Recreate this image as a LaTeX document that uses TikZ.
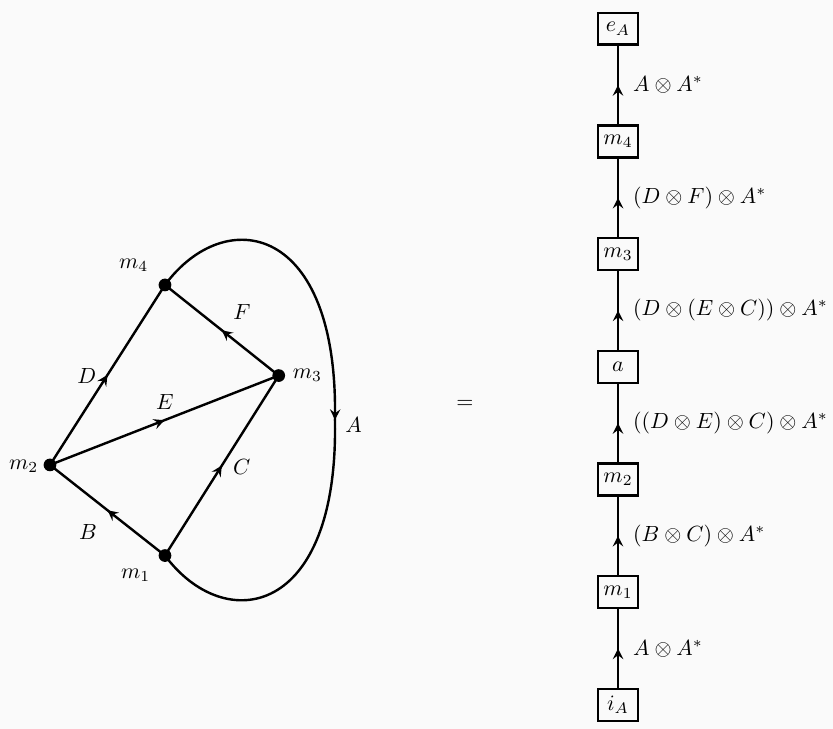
\documentclass[tikz,border=0pt]{standalone}
\usetikzlibrary{positioning,decorations.markings}
\definecolor{bgcol}{RGB}{250,250,250}
\tikzset{
    vertex/.style={circle, fill, inner sep=0pt, minimum size=5.8pt},
    morph/.style={draw, line width=1.1pt, minimum width=18pt, minimum height=14.5pt, inner sep=2pt},
    wire/.style={line width=1.1pt},
    midarrow/.style={postaction={decorate, decoration={markings, mark=at position 0.5 with {\arrow{stealth}}}}},
}
\begin{document}
\begin{tikzpicture}[>=stealth, node distance=1.255cm]
    \fill[bgcol] (0,0) rectangle (13.33,11.66);
    \useasboundingbox (0,0) rectangle (13.33,11.66);

    % graph on the left
    \node[vertex] (m4) at (2.64,7.10) {};
    \node[vertex] (m3) at (4.46,5.65) {};
    \node[vertex] (m2) at (0.80,4.22) {};
    \node[vertex] (m1) at (2.64,2.77) {};

    \node (m4lab) at (2.14,7.42) {\(m_4\)};
    \node (m3lab) at (4.92,5.65) {\(m_3\)};
    \node (m2lab) at (0.38,4.20) {\(m_2\)};
    \node (m1lab) at (2.17,2.45) {\(m_1\)};

    \draw[wire, midarrow] (m2.center) -- (m4.center);
    \draw[wire, midarrow] (m2.center) -- (m3.center);
    \draw[wire, midarrow] (m3.center) -- (m4.center);
    \draw[wire, midarrow] (m1.center) -- (m3.center);
    \draw[wire, midarrow] (m1.center) -- (m2.center);
    \draw[wire, midarrow] (m4.center) .. controls (3.6,8.4) and (5.42,8.1) .. (5.36,4.94)
        .. controls (5.42,1.78) and (3.6,1.48) .. (m1.center);

    \node (D) at (1.39,5.65) {\(D\)};
    \node (E) at (2.64,5.23) {\(E\)};
    \node (F) at (3.87,6.67) {\(F\)};
    \node (C) at (3.87,4.19) {\(C\)};
    \node (B) at (1.41,3.14) {\(B\)};
    \node (A) at (5.66,4.86) {\(A\)};

    \node (eq) at (7.44,5.18) {\(=\)};

    % string diagram on the right
    \node[morph] (iA) at (9.89,0.38) {\(i_A\)};
    \node[morph, above=of iA] (bm1) {\(m_1\)};
    \node[morph, above=of bm1] (bm2) {\(m_2\)};
    \node[morph, above=of bm2] (ba) {\(a\)};
    \node[morph, above=of ba] (bm3) {\(m_3\)};
    \node[morph, above=of bm3] (bm4) {\(m_4\)};
    \node[morph, above=of bm4] (eA) {\(e_A\)};

    \draw[wire, midarrow] (iA) -- (bm1) node[midway, right, xshift=3pt] (w1) {\(A\otimes A^*\)};
    \draw[wire, midarrow] (bm1) -- (bm2) node[midway, right, xshift=3pt] (w2) {\((B\otimes C)\otimes A^*\)};
    \draw[wire, midarrow] (bm2) -- (ba) node[midway, right, xshift=3pt] (w3) {\(((D\otimes E)\otimes C)\otimes A^*\)};
    \draw[wire, midarrow] (ba) -- (bm3) node[midway, right, xshift=3pt] (w4) {\((D\otimes (E\otimes C))\otimes A^*\)};
    \draw[wire, midarrow] (bm3) -- (bm4) node[midway, right, xshift=3pt] (w5) {\((D\otimes F)\otimes A^*\)};
    \draw[wire, midarrow] (bm4) -- (eA) node[midway, right, xshift=3pt] (w6) {\(A\otimes A^*\)};
\end{tikzpicture}
\end{document}
